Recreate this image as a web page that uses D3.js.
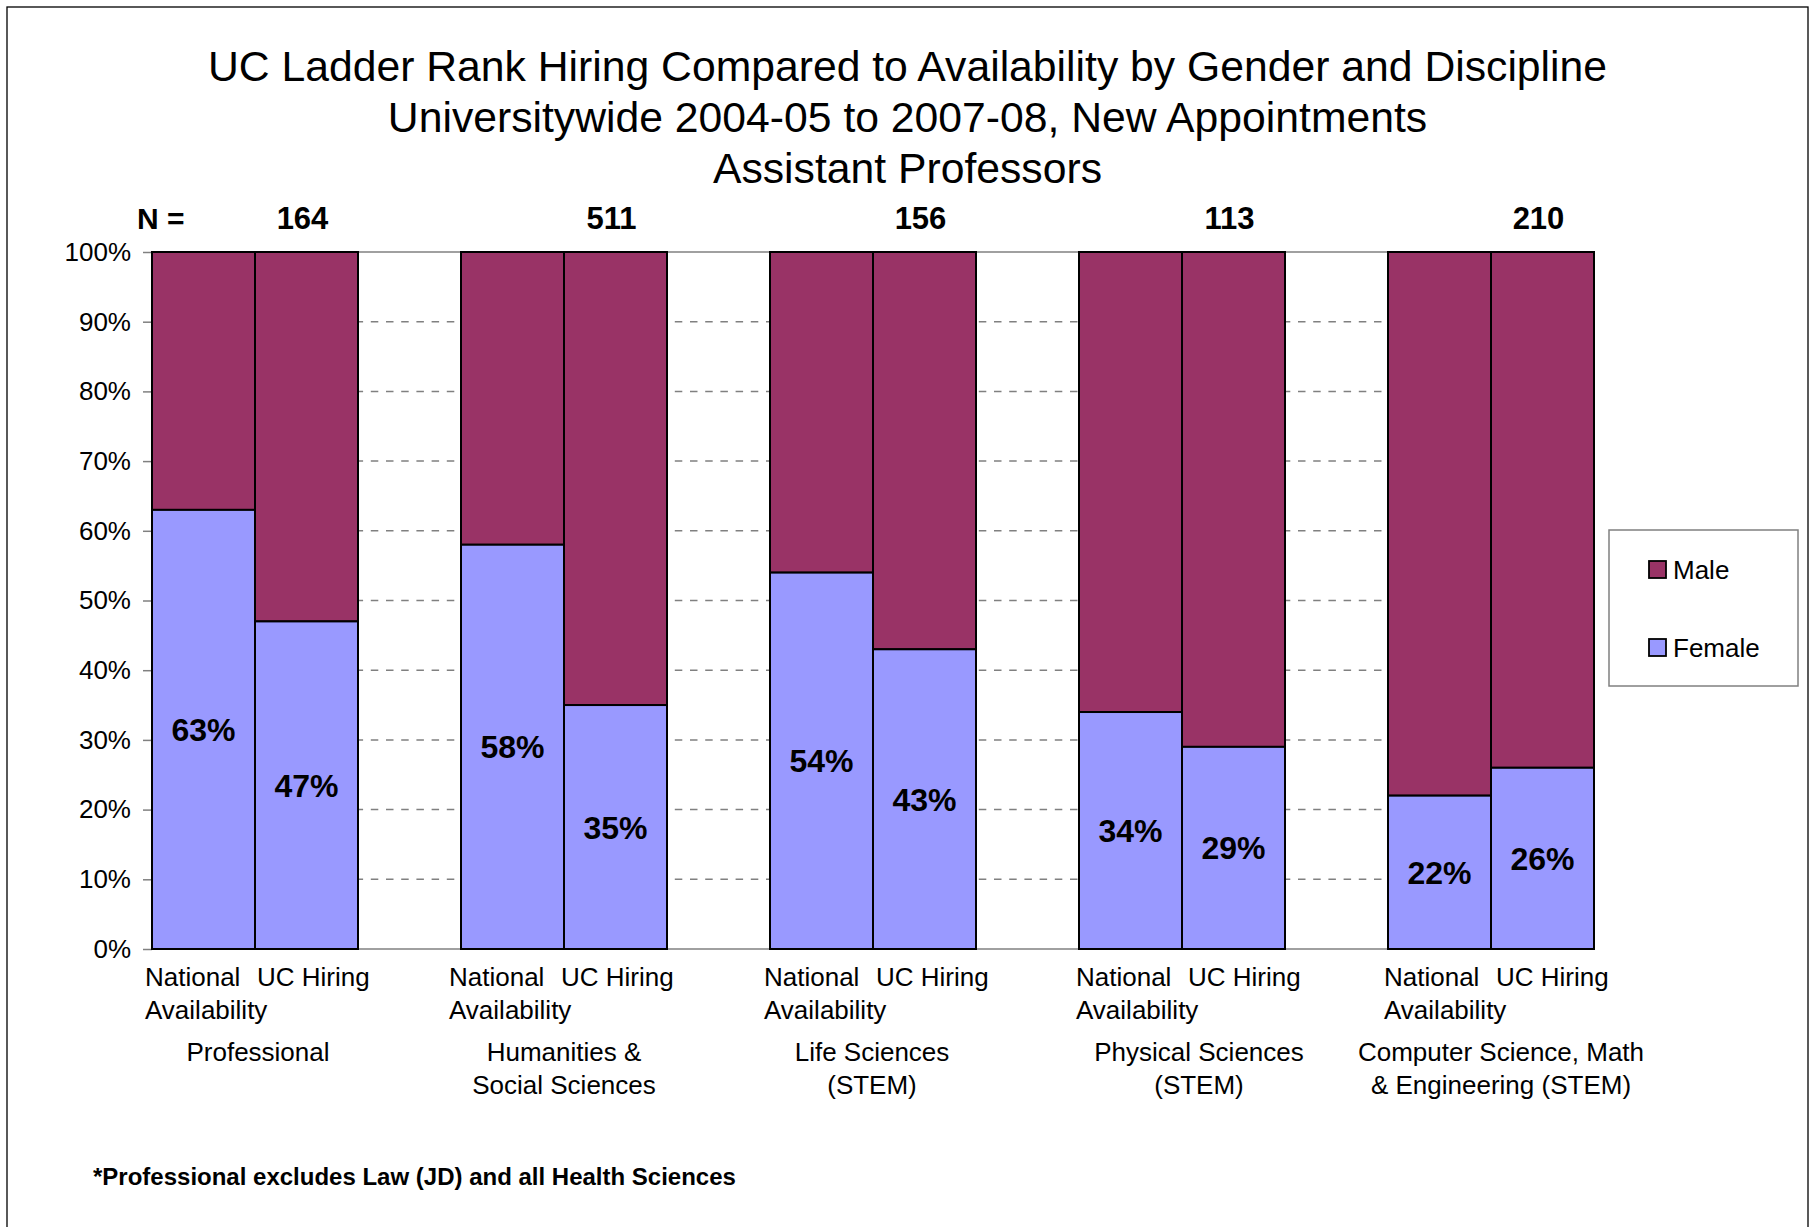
<!DOCTYPE html>
<html lang="en">
<head>
<meta charset="UTF-8">
<title>UC Ladder Rank Hiring Compared to Availability</title>
<script src="https://cdn.jsdelivr.net/npm/d3@7"></script>
<style>
  body { margin: 0; background: #fff; }
  svg { display: block; font-family: "Liberation Sans", Arial, sans-serif; }
  .axis text { font-size: 26px; fill: #000; }
  .axis line { stroke: #808080; stroke-width: 1.5px; }
  .axis path { display: none; }
  .grid { stroke: #808080; stroke-width: 1.5px; }
  .bar { stroke: #000; stroke-width: 2px; }
  .pct { font-size: 32px; font-weight: bold; text-anchor: middle; }
</style>
</head>
<body>
<svg width="1815" height="1227"></svg>
<script>
// data
const categories = ["Professional", "Humanities & Social Sciences", "Life Sciences (STEM)",
                    "Physical Sciences (STEM)", "Computer Science, Math & Engineering (STEM)"];
const categoryLines = [["Professional"], ["Humanities &", "Social Sciences"], ["Life Sciences", "(STEM)"],
                       ["Physical Sciences", "(STEM)"], ["Computer Science, Math", "& Engineering (STEM)"]];
const series = ["National Availability", "UC Hiring"];
const femaleNational = [63, 58, 54, 34, 22];
const femaleUC = [47, 35, 43, 29, 26];
const nCounts = [164, 511, 156, 113, 210];
const yTicks = [0, 10, 20, 30, 40, 50, 60, 70, 80, 90, 100];
const genders = ["Male", "Female"];
const colors = { Male: "#993366", Female: "#9999FF" };
const titleLines = ["UC Ladder Rank Hiring Compared to Availability by Gender and Discipline",
                    "Universitywide 2004-05 to 2007-08, New Appointments",
                    "Assistant Professors"];
const footnote = "*Professional excludes Law (JD) and all Health Sciences";

// small nudges of the text boxes under each group (px), as in the original
const subShift = [0, -5, 1, 4, 3];
const catShift = [3, 0, -1, 17, 10];

const svg = d3.select("svg");

// outer frame
svg.append("rect").attr("x", 7).attr("y", 7).attr("width", 1801).attr("height", 1240)
  .attr("fill", "#fff").attr("stroke", "#000").attr("stroke-width", 1.3);

const x = d3.scaleBand().domain(categories).range([152, 1594]).paddingInner(1 / 3).paddingOuter(0);
const xs = d3.scaleBand().domain(series).range([0, x.bandwidth()]);
const y = d3.scaleLinear().domain([0, 100]).range([949, 252]);

// rows: one per bar
const rows = [];
categories.forEach((c, i) => {
  rows.push({ cat: c, ser: series[0], female: femaleNational[i] });
  rows.push({ cat: c, ser: series[1], female: femaleUC[i] });
});

// gridlines
svg.append("g").selectAll("line")
  .data(yTicks)
  .join("line")
  .attr("class", "grid")
  .attr("x1", x.range()[0]).attr("x2", x.range()[1])
  .attr("y1", d => y(d)).attr("y2", d => y(d))
  .attr("stroke-dasharray", d => (d === 0 || d === 100) ? null : "7.5,7.7")
  .attr("stroke-dashoffset", -6);

// y axis
svg.append("g").attr("class", "axis")
  .attr("transform", "translate(152,0)")
  .call(d3.axisLeft(y).tickValues(yTicks).tickSize(9).tickPadding(12).tickFormat(d => d + "%"));

// bars
const barG = svg.append("g").selectAll("g")
  .data(rows)
  .join("g")
  .attr("transform", d => `translate(${x(d.cat) + xs(d.ser)},0)`);

barG.append("rect").attr("class", "bar")
  .attr("width", xs.bandwidth())
  .attr("y", y(100))
  .attr("height", d => y(d.female) - y(100))
  .attr("fill", colors.Male);

barG.append("rect").attr("class", "bar")
  .attr("width", xs.bandwidth())
  .attr("y", d => y(d.female))
  .attr("height", d => y(0) - y(d.female))
  .attr("fill", colors.Female);

barG.append("text").attr("class", "pct")
  .attr("x", xs.bandwidth() / 2)
  .attr("y", d => y(d.female / 2))
  .attr("dy", "0.36em")
  .text(d => d.female + "%");

// title
svg.append("g").selectAll("text")
  .data(titleLines)
  .join("text")
  .attr("x", 907.5)
  .attr("y", (d, i) => 81 + i * 51)
  .attr("text-anchor", "middle")
  .attr("font-size", 42.7)
  .text(d => d);

// N = counts
svg.append("text").attr("x", 137).attr("y", 229)
  .attr("font-size", 30).attr("font-weight", "bold").text("N =");
svg.append("g").selectAll("text")
  .data(categories)
  .join("text")
  .attr("x", (d) => x(d) + xs(series[1]) + xs.bandwidth() / 2 - 4)
  .attr("y", 229)
  .attr("text-anchor", "middle")
  .attr("font-size", 31).attr("font-weight", "bold")
  .text((d, i) => nCounts[i]);

// category sub labels
const lab = svg.append("g").attr("font-size", 26);
categories.forEach((c, i) => {
  const cx = x(c) + x.bandwidth() / 2;
  lab.append("text").attr("x", cx - 110 + subShift[i]).attr("y", 986).text("National");
  lab.append("text").attr("x", cx + 2 + subShift[i]).attr("y", 986).text("UC Hiring");
  lab.append("text").attr("x", cx - 110 + subShift[i]).attr("y", 1019).text("Availability");
  categoryLines[i].forEach((t, j) => {
    lab.append("text").attr("x", cx + catShift[i]).attr("y", 1061 + j * 33)
      .attr("text-anchor", "middle").text(t);
  });
});

// legend
const leg = svg.append("g");
leg.append("rect").attr("x", 1609).attr("y", 530).attr("width", 189).attr("height", 156)
  .attr("fill", "#fff").attr("stroke", "#808080").attr("stroke-width", 1.5);
genders.forEach((g, i) => {
  leg.append("rect").attr("x", 1649).attr("y", 561 + i * 78).attr("width", 17).attr("height", 17)
    .attr("fill", colors[g]).attr("stroke", "#000").attr("stroke-width", 1.8);
  leg.append("text").attr("x", 1673).attr("y", 579 + i * 78).attr("font-size", 26).text(g);
});

// footnote
svg.append("text").attr("x", 93).attr("y", 1185)
  .attr("font-size", 24).attr("font-weight", "bold").text(footnote);
</script>
</body>
</html>
